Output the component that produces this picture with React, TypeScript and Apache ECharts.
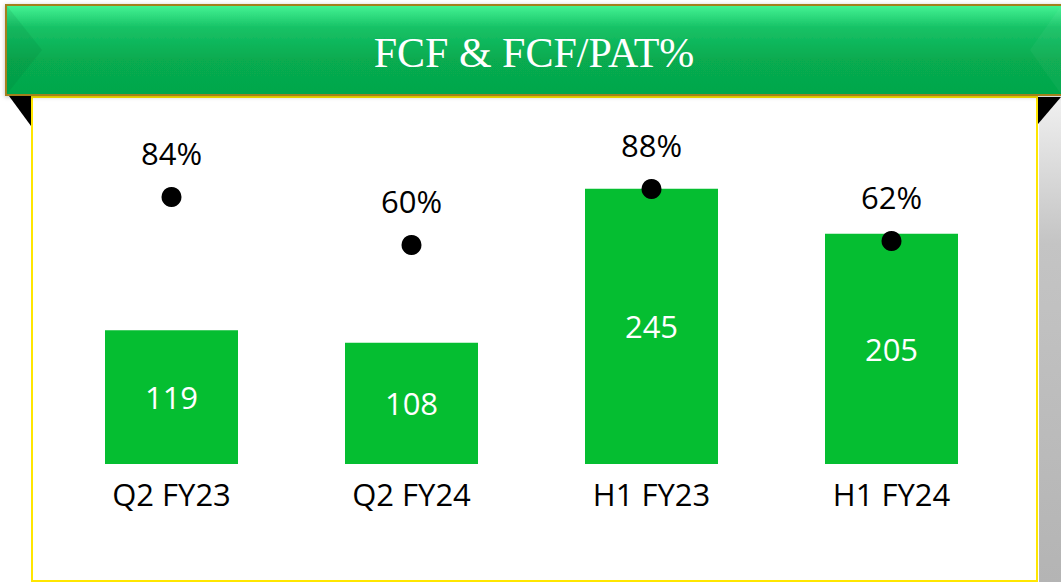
import React, { useEffect, useRef } from "react";
import * as echarts from "echarts";

const categories = ["Q2 FY23", "Q2 FY24", "H1 FY23", "H1 FY24"];
const fcfValues = [119, 108, 245, 205];
const fcfPatPct = [84, 60, 88, 62];
const titleText = "FCF & FCF/PAT%";

export default function App() {
  const ref = useRef<HTMLDivElement>(null);
  useEffect(() => {
    if (!ref.current) return;
    const chart = echarts.init(ref.current, null, { renderer: "svg" });
    chart.setOption({
      animation: false,
      backgroundColor: "#ffffff",
      graphic: [
        {
          type: "rect",
          z: -10,
          shape: { x: 1039, y: 98, width: 22, height: 484 },
          style: {
            fill: new echarts.graphic.LinearGradient(0, 0, 0, 1, [
              { offset: 0, color: "#f0f0f0" },
              { offset: 0.3, color: "#c4c4c4" },
              { offset: 1, color: "#b4b4b4" },
            ]),
          },
        },
        { type: "polygon", z: -5, shape: { points: [[9, 96], [31, 96], [31, 126]] }, style: { fill: "#000" } },
        { type: "polygon", z: -5, shape: { points: [[1038, 97], [1061, 97], [1038, 124]] }, style: { fill: "#000" } },
        {
          type: "rect",
          z: -4,
          shape: { x: 32, y: 97, width: 1005, height: 484 },
          style: { fill: "#ffffff", stroke: "#ffe600", lineWidth: 2 },
        },
        {
          type: "rect",
          z: 10,
          shape: { x: 6, y: 5, width: 1060, height: 90 },
          style: {
            fill: new echarts.graphic.LinearGradient(0, 0, 0, 1, [
              { offset: 0, color: "#45f495" },
              { offset: 0.25, color: "#17c266" },
              { offset: 0.6, color: "#07ab50" },
              { offset: 1, color: "#05a74b" },
            ]),
            stroke: "#a3801f",
            lineWidth: 2,
            shadowBlur: 4,
            shadowColor: "rgba(0,0,0,0.25)",
            shadowOffsetY: 1,
          },
        },
        {
          type: "polygon",
          z: 11,
          shape: { points: [[7, 6], [42, 50], [7, 94]] },
          style: { fill: "rgba(0,90,40,0.10)" },
        },
        {
          type: "polygon",
          z: 11,
          shape: { points: [[1061, 6], [1030, 50], [1061, 94]] },
          style: { fill: "rgba(255,255,255,0.04)" },
        },
        {
          type: "text",
          z: 12,
          style: {
            text: titleText,
            x: 534,
            y: 53,
            align: "center",
            verticalAlign: "middle",
            fill: "#ffffff",
            font: '42px "Liberation Serif", "Times New Roman", serif',
          },
        },
      ],
      grid: { left: 51.5, width: 960, top: 127, height: 337, containLabel: false },
      xAxis: {
        type: "category",
        data: categories,
        axisLine: { show: false },
        axisTick: { show: false },
        axisLabel: {
          margin: 14,
          fontSize: 31,
          color: "#000000",
          fontFamily: '"Open Sans", sans-serif',
        },
      },
      yAxis: [
        { type: "value", min: 0, max: 300, show: false, splitLine: { show: false } },
        { type: "value", min: -49.5, max: 119, show: false, splitLine: { show: false } },
      ],
      series: [
        {
          type: "bar",
          data: fcfValues,
          barWidth: 133,
          itemStyle: { color: "#05be31" },
          label: {
            show: true,
            position: "inside",
            color: "#ffffff",
            fontSize: 31,
            fontFamily: '"Open Sans", sans-serif',
          },
        },
        {
          type: "line",
          yAxisIndex: 1,
          data: fcfPatPct,
          symbol: "circle",
          symbolSize: 20,
          lineStyle: { width: 0, opacity: 0 },
          itemStyle: { color: "#000000" },
          label: {
            show: true,
            position: "top",
            distance: 19,
            formatter: "{c}%",
            color: "#000000",
            fontSize: 31,
            fontFamily: '"Open Sans", sans-serif',
          },
        },
      ],
    });
    return () => chart.dispose();
  }, []);
  return (
    <div
      ref={ref}
      style={{ position: "fixed", left: 0, top: 0, width: 1061, height: 582 }}
    />
  );
}
